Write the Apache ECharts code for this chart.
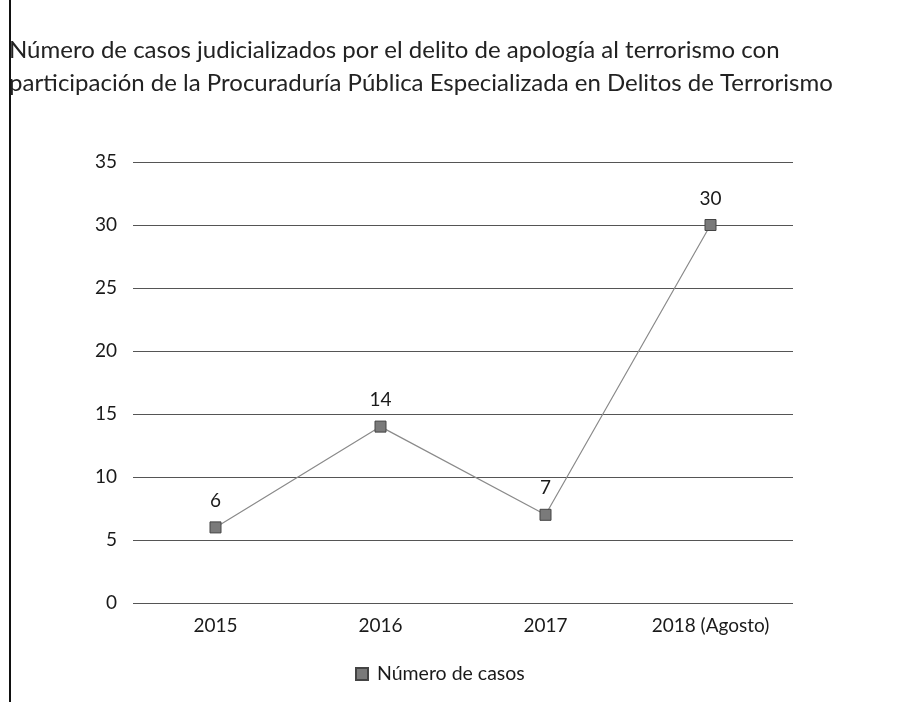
<!DOCTYPE html>
<html><head><meta charset="utf-8">
<script src="https://cdn.jsdelivr.net/npm/echarts@6/dist/echarts.min.js"></script>
<style>html,body{margin:0;padding:0;background:#fff}#c{width:904px;height:702px}</style>
</head><body><div id="c"></div>
<script>
const categories = ['2015', '2016', '2017', '2018 (Agosto)'];
const casos = [6, 14, 7, 30];
const yTicks = [0, 5, 10, 15, 20, 25, 30, 35];
const seriesName = 'Número de casos';
const titleLines = ['Número de casos judicializados por el delito de apología al terrorismo con',
  'participación de la Procuraduría Pública Especializada en Delitos de Terrorismo'];

const chart = echarts.init(document.getElementById('c'));
chart.setOption({
  animation: false,
  textStyle: { fontFamily: 'Lato' },
  title: {
    text: titleLines.join('\n'), left: 4, top: 29,
    textStyle: { fontFamily: 'Lato', fontSize: 24, fontWeight: 'normal', color: '#222', lineHeight: 33 }
  },
  legend: {
    bottom: 13, left: 350, icon: 'rect', itemWidth: 12, itemHeight: 12, itemGap: 8,
    textStyle: { fontFamily: 'Lato', fontSize: 19.5, color: '#1a1a1a', padding: [0, 0, 0, 4] },
    data: [seriesName]
  },
  grid: { left: 133, right: 111, top: 162, bottom: 99 },
  xAxis: {
    type: 'category', data: categories, boundaryGap: true,
    axisLine: { show: false }, axisTick: { show: false },
    axisLabel: { fontFamily: 'Lato', fontSize: 19, color: '#1a1a1a', margin: 13 }
  },
  yAxis: {
    type: 'value', min: yTicks[0], max: yTicks[yTicks.length - 1], interval: 5,
    axisLine: { show: false }, axisTick: { show: false },
    axisLabel: { fontFamily: 'Lato', fontSize: 19, color: '#1a1a1a', margin: 16 },
    splitLine: { lineStyle: { color: '#555', width: 1.2 } }
  },
  series: [{
    name: seriesName, type: 'line', data: casos,
    symbol: 'rect', symbolSize: 11,
    lineStyle: { color: '#8a8a8a', width: 1.2 },
    itemStyle: { color: '#7a7a7a', borderColor: '#444', borderWidth: 1 },
    label: { show: true, position: 'top', distance: 11, fontFamily: 'Lato', fontSize: 19, color: '#1a1a1a' }
  }],
  graphic: [{
    type: 'line', shape: { x1: 10, y1: 0, x2: 10, y2: 702 },
    style: { stroke: '#111', lineWidth: 2 }
  }]
});
</script></body></html>
